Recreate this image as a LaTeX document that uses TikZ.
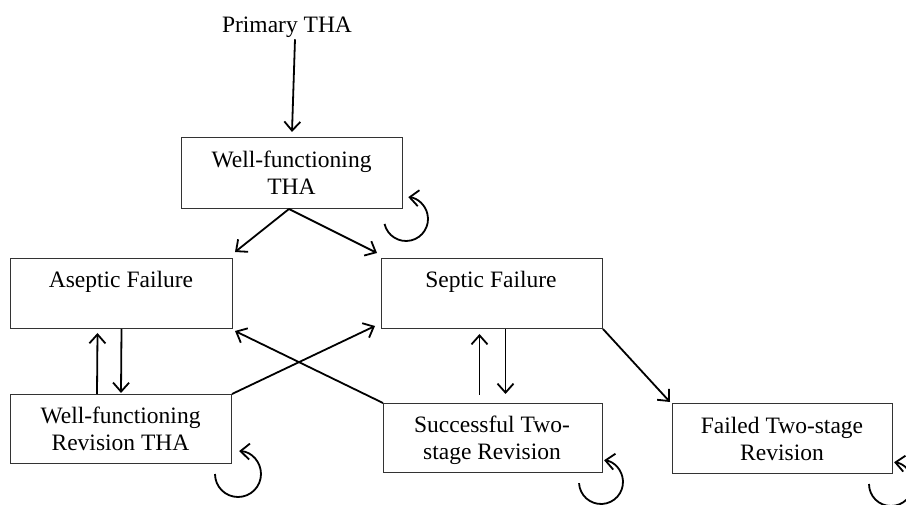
\documentclass[tikz,border=0pt]{standalone}
\usepackage{fontspec}
\setmainfont{Liberation Serif}
\usetikzlibrary{arrows.meta}
\begin{document}
\begin{tikzpicture}[x=1pt,y=-1pt,
  box/.style={draw=black!80, line width=1pt, inner sep=0pt, anchor=north west},
  lbl/.style={font=\fontsize{23.5}{27.5}\selectfont, align=center, anchor=base, inner sep=0pt},
  arr/.style={line width=1.8pt, -{Straight Barb[length=9pt,width=16pt]}}
]
\useasboundingbox (0,0) rectangle (906,505);
\clip (0,0) rectangle (906,505);

% boxes
\node[box, minimum width=221pt, minimum height=71pt] (wf)   at (181,137) {};
\node[box, minimum width=222pt, minimum height=70pt] (asep) at (10,258) {};
\node[box, minimum width=221pt, minimum height=70pt] (sep)  at (381,258) {};
\node[box, minimum width=221pt, minimum height=69pt] (wfr)  at (10,394) {};
\node[box, minimum width=219pt, minimum height=69pt] (succ) at (383,403) {};
\node[box, minimum width=220pt, minimum height=70pt] (fail) at (672,403) {};

% labels (base anchor of a two-line node = baseline of its last line)
\node[lbl] (prim) at (287,33) {Primary THA};
\node[lbl] (wfl)  at (291.5,195) {Well-functioning\\THA};
\node[lbl] (asl)  at (121,288) {Aseptic Failure};
\node[lbl] (sel)  at (491,288) {Septic Failure};
\node[lbl] (wrl)  at (120.5,450.5) {Well-functioning\\Revision THA};
\node[lbl] (sul)  at (492,459.5) {Successful Two-\\stage Revision};
\node[lbl] (fal)  at (782,460.5) {Failed Two-stage\\Revision};

% connectors
\draw[arr] ([xshift=8pt,yshift=-1pt]prim.south) -- ([yshift=5pt]wf.north);
\draw[arr] ([xshift=-3pt]wf.south) -- ([shift={(2pt,6pt)}]asep.north east);
\draw[arr] ([xshift=-3pt]wf.south) -- ([shift={(-4pt,5pt)}]sep.north west);
\draw[arr] ([xshift=-24pt]wfr.north) -- ([xshift=-24pt,yshift=-4pt]asep.south);
\draw[arr] (asep.south) -- ([yshift=1pt]wfr.north);
\draw[arr] (wfr.north east) -- ([shift={(-6pt,3pt)}]sep.south west);
\draw[arr] (succ.north west) -- ([shift={(2pt,-2pt)}]asep.south east);
\draw[arr] ([shift={(-12.5pt,-66pt)}]sep.south) -- ([shift={(-12.5pt,-5pt)}]sep.south);
\draw[arr] ([xshift=13.5pt]sep.south) -- ([shift={(13.5pt,-65pt)}]sep.south);
\draw[arr] (sep.south east) -- ([shift={(-2pt,1pt)}]fail.north west);

% self loops
\coordinate (c1) at ([shift={(3pt,-10pt)}]wf.south east);
\coordinate (c2) at ([shift={(6pt,-10pt)}]wfr.south east);
\coordinate (c3) at ([shift={(-2pt,-9pt)}]succ.south east);
\coordinate (c4) at ([shift={(-2pt,-10pt)}]fail.south east);
\draw[arr] (c1) ++(167:22) arc[start angle=167, end angle=-84, radius=22];
\draw[arr] (c2) ++(180:23) arc[start angle=180, end angle=-87, radius=23];
\draw[arr] (c3) ++(177:22) arc[start angle=177, end angle=-82, radius=22];
\draw[arr] (c4) ++(180:22) arc[start angle=180, end angle=-82, radius=22];
\end{tikzpicture}
\end{document}
